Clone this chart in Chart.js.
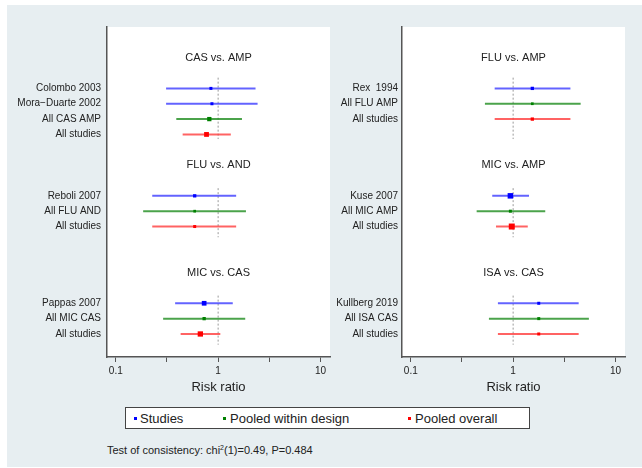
<!DOCTYPE html>
<html>
<head>
<meta charset="utf-8">
<script src="https://cdn.jsdelivr.net/npm/chart.js@4.4.0/dist/chart.umd.min.js"></script>
<style>
  body { margin: 0; background: #fff; font-family: "Liberation Sans", Arial, sans-serif; color: #222; }
  #bg { position: absolute; left: 7px; top: 5px; width: 635px; height: 462px; background: #e7eef1; }
  canvas { position: absolute; }
  #legend { position: absolute; left: 125px; top: 407px; width: 405px; height: 22px; box-sizing: border-box;
            border: 1px solid #444; background: #fff; }
  #legend .dot { position: absolute; top: 9px; width: 3px; height: 3px; }
  #legend .lt { position: absolute; top: 3px; font-size: 13px; line-height: 15px; white-space: nowrap; }
  #note { position: absolute; left: 107px; top: 443px; font-size: 11px; line-height: 14px; white-space: nowrap; }
  #note sup { font-size: 7px; vertical-align: 4px; line-height: 0; }
</style>
</head>
<body>
<div id="bg"></div>
<canvas id="leftChart" width="340" height="400" style="left:7px;top:5px;width:340px;height:400px"></canvas>
<canvas id="rightChart" width="312" height="400" style="left:330px;top:5px;width:312px;height:400px"></canvas>
<div id="legend"></div>
<div id="note">Test of consistency: chi<sup>2</sup>(1)=0.49, P=0.484</div>
<script>
// risk ratios with 95% CI
const leftTitles = ['CAS vs. AMP', 'FLU vs. AND', 'MIC vs. CAS'];
const leftLabels = [
  ['Colombo 2003', 'Mora\u2212Duarte 2002', 'All CAS AMP', 'All studies'],
  ['Reboli 2007', 'All FLU AND', 'All studies'],
  ['Pappas 2007', 'All MIC CAS', 'All studies']
];
const leftKinds = [[0, 0, 1, 2], [0, 1, 2], [0, 1, 2]];
const leftRR = [[0.85, 0.87, 0.82, 0.77], [0.59, 0.59, 0.59], [0.73, 0.73, 0.67]];
const leftLow = [[0.31, 0.31, 0.39, 0.45], [0.227, 0.185, 0.227], [0.38, 0.29, 0.43]];
const leftHigh = [[2.32, 2.43, 1.71, 1.33], [1.50, 1.87, 1.50], [1.39, 1.84, 1.05]];

const rightTitles = ['FLU vs. AMP', 'MIC vs. AMP', 'ISA vs. CAS'];
const rightLabels = [
  ['Rex  1994', 'All FLU AMP', 'All studies'],
  ['Kuse 2007', 'All MIC AMP', 'All studies'],
  ['Kullberg 2019', 'All ISA CAS', 'All studies']
];
const rightKinds = [[0, 1, 2], [0, 1, 2], [0, 1, 2]];
const rightRR = [[1.54, 1.54, 1.54], [0.94, 0.94, 0.97], [1.78, 1.78, 1.78]];
const rightLow = [[0.66, 0.53, 0.66], [0.625, 0.44, 0.68], [0.71, 0.58, 0.71]];
const rightHigh = [[3.63, 4.57, 3.63], [1.43, 2.06, 1.39], [4.37, 5.5, 4.37]];

const seriesNames = ['Studies', 'Pooled within design', 'Pooled overall'];
const xTickValues = [0.1, 1, 10];
const noteText = 'Test of consistency: chi\u00b2(1)=0.49, P=0.484';

// styling
const markerColors = ['#0000ff', '#008000', '#ff0000'];
const lineColors = ['rgba(60,60,255,0.8)', 'rgba(30,140,30,0.8)', 'rgba(255,60,60,0.8)'];
// marker side in px (study weight boxes)
const leftBox = [[3, 3, 4.3, 4.8], [3.3, 2.7, 3], [4.7, 3.3, 5.3]];
const rightBox = [[3.3, 2.7, 3.3], [5.5, 3, 6], [3, 3, 3]];
const refSpan = [[1.3, 5.3], [1.5, 4.7], [1.5, 4.7]];
const FONT = '"Liberation Sans", Arial, sans-serif';
const GROUP_STEP = 7;

const bgPlugin = {
  id: 'plotBg',
  beforeDraw(chart) {
    const a = chart.chartArea, ctx = chart.ctx;
    ctx.save();
    ctx.fillStyle = '#fff';
    ctx.fillRect(a.left, a.top, a.right - a.left, a.bottom - a.top);
    ctx.restore();
  }
};

function makePanel(id, titles, labels, kinds, rr, low, high, boxes, axisWidth, labelPad) {
  const rowYs = [], labelMap = {};
  const ref = [];
  const ci = [[], [], []];
  const pts = [[], [], []];
  const radii = [[], [], []];
  titles.forEach((t, g) => {
    const base = g * GROUP_STEP;
    ref.push({x: 1, y: base + refSpan[g][0]}, {x: 1, y: base + refSpan[g][1]}, {x: 1, y: null});
    labels[g].forEach((lab, i) => {
      const y = base + 2 + i;
      const k = kinds[g][i];
      rowYs.push(y);
      labelMap[y] = lab;
      ci[k].push({x: low[g][i], y: y}, {x: high[g][i], y: y}, {x: high[g][i], y: null});
      pts[k].push({x: rr[g][i], y: y});
      radii[k].push(boxes[g][i] / Math.SQRT2);
    });
  });

  const datasets = [{
    data: ref, showLine: true, spanGaps: false, borderColor: '#9a9a9a', borderWidth: 1,
    borderDash: [2, 2], pointRadius: 0, order: 3
  }];
  for (let k = 0; k < 3; k++) {
    datasets.push({
      label: seriesNames[k], data: ci[k], showLine: true, spanGaps: false,
      borderColor: lineColors[k], borderWidth: 2, pointRadius: 0, order: 2
    });
    datasets.push({
      label: seriesNames[k], data: pts[k], showLine: false, pointStyle: 'rect',
      pointRadius: radii[k], backgroundColor: markerColors[k], borderWidth: 0, order: 1
    });
  }

  const titlePlugin = {
    id: 'groupTitles',
    afterDraw(chart) {
      const a = chart.chartArea, ctx = chart.ctx, ys = chart.scales.y;
      ctx.save();
      ctx.font = '11px ' + FONT;
      ctx.fillStyle = '#222';
      ctx.textAlign = 'center';
      ctx.textBaseline = 'middle';
      titles.forEach((t, g) => ctx.fillText(t, (a.left + a.right) / 2, ys.getPixelForValue(g * GROUP_STEP)));
      ctx.restore();
    }
  };

  const minor = [0.1 * Math.sqrt(10), Math.sqrt(10)];

  new Chart(document.getElementById(id), {
    type: 'scatter',
    data: { datasets },
    plugins: [bgPlugin, titlePlugin],
    options: {
      responsive: false,
      animation: false,
      layout: { padding: { left: 0, right: 17, top: 22, bottom: 10 } },
      plugins: { legend: { display: false }, tooltip: { enabled: false } },
      scales: {
        x: {
          type: 'logarithmic', min: 0.082, max: 12.4,
          afterBuildTicks: s => { s.ticks = xTickValues.concat(minor).sort((a, b) => a - b).map(v => ({value: v})); },
          afterFit: s => { s.height = 38; },
          ticks: {
            autoSkip: false, maxRotation: 0, padding: 3, color: '#222',
            font: { size: 10, family: FONT },
            callback: v => xTickValues.includes(v) ? String(v) : ''
          },
          grid: { drawOnChartArea: false, drawTicks: true, tickLength: 5, color: '#555', lineWidth: 1 },
          border: { color: '#555', width: 1.5 },
          title: { display: true, text: 'Risk ratio', color: '#222', font: { size: 13, family: FONT }, padding: { top: 0, bottom: 0 } }
        },
        y: {
          type: 'linear', reverse: true, min: -2, max: 19.5,
          afterBuildTicks: s => { s.ticks = rowYs.map(v => ({value: v})); },
          afterFit: s => { s.width = axisWidth; },
          ticks: {
            autoSkip: false, padding: labelPad, color: '#222',
            font: { size: 10, family: FONT },
            callback: v => labelMap[v]
          },
          grid: { display: false, drawTicks: false },
          border: { color: '#555', width: 1.5 }
        }
      }
    }
  });
}

makePanel('leftChart', leftTitles, leftLabels, leftKinds, leftRR, leftLow, leftHigh, leftBox, 100, 6);
makePanel('rightChart', rightTitles, rightLabels, rightKinds, rightRR, rightLow, rightHigh, rightBox, 72, 4);

// legend box
const legendPos = [[8, 14], [97, 104], [282, 289]];
const legend = document.getElementById('legend');
seriesNames.forEach((name, k) => {
  const d = document.createElement('span');
  d.className = 'dot';
  d.style.left = legendPos[k][0] + 'px';
  d.style.background = markerColors[k];
  legend.appendChild(d);
  const t = document.createElement('span');
  t.className = 'lt';
  t.style.left = legendPos[k][1] + 'px';
  t.textContent = name;
  legend.appendChild(t);
});
</script>
</body>
</html>
